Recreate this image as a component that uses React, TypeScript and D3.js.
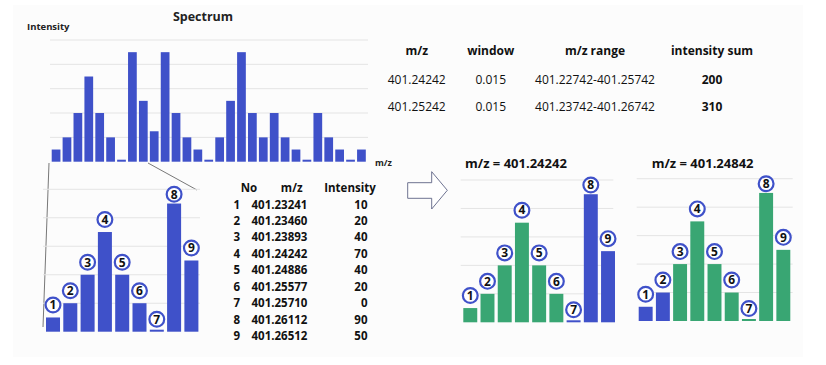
import React from 'react'
import * as d3 from 'd3'

// full spectrum (intensity per bin)
const spectrum = [10, 20, 40, 70, 40, 20, 0, 90, 50, 25, 90, 40, 20, 10, 0, 20, 50, 90, 40, 20, 40, 20, 10, 0, 40, 20, 10, 0, 10]

// zoomed peaks
const peakNo = [1, 2, 3, 4, 5, 6, 7, 8, 9]
const peakMz = ['401.23241', '401.23460', '401.23893', '401.24242', '401.24886', '401.25577', '401.25710', '401.26112', '401.26512']
const peakIntensity = [10, 20, 40, 70, 40, 20, 0, 90, 50]

// window table
const windowHeaders = ['m/z', 'window', 'm/z range', 'intensity sum']
const windowMz = ['401.24242', '401.25242']
const windowSize = ['0.015', '0.015']
const windowRange = ['401.22742-401.25742', '401.23742-401.26742']
const windowSum = ['200', '310']

// extracted chart titles and which peaks fall in the window
const extractTitles = ['m/z = 401.24242', 'm/z = 401.24842']
const extractIn = [[1, 2, 3, 4, 5, 6], [3, 4, 5, 6, 7, 8, 9]]

const gridTicks = [20, 40, 60, 80, 100]
const BLUE = '#3f51c9'
const GREEN = '#39a673'
const GRID = '#e4e4e4'
const FONT = "'Open Sans', 'Noto Sans', sans-serif"

type BarsProps = {
  values: number[]
  x0: number
  x1: number
  base: number
  top: number
  gx0: number
  gx1: number
  pad: number
  colorOf: (i: number) => string
  labels?: boolean
}

const Bars = ({ values, x0, x1, base, top, gx0, gx1, pad, colorOf, labels }: BarsProps) => {
  const x = d3.scaleBand<number>()
    .domain(values.map((_, i) => i))
    .range([x0, x1])
    .paddingInner(pad)
    .paddingOuter(0)
  const y = d3.scaleLinear().domain([0, 100]).range([base, top])
  return (
    <g>
      {gridTicks.map(t => (
        <line key={t} x1={gx0} x2={gx1} y1={y(t)} y2={y(t)} stroke={GRID} strokeWidth={1} />
      ))}
      {values.map((v, i) => {
        const h = Math.max(base - y(v), 2)
        return <rect key={i} x={x(i)} y={base - h} width={x.bandwidth()} height={h} fill={colorOf(i)} />
      })}
      {labels && values.map((v, i) => {
        const cx = (x(i) as number) + x.bandwidth() / 2
        const cy = Math.max(y(v) - 12.5, y(100) + 5)
        return (
          <g key={'l' + i}>
            <circle cx={cx} cy={cy} r={7.4} fill="white" stroke={BLUE} strokeWidth={2.2} />
            <text x={cx} y={cy + 4.3} textAnchor="middle" fontSize={12} fontWeight="bold" fill="#111">{peakNo[i]}</text>
          </g>
        )
      })}
    </g>
  )
}

const App = () => {
  const colX = [416.7, 490.7, 595, 712]
  const rowY = [83.5, 111]
  const ty = d3.scaleLinear().domain([0, 8]).range([208.5, 340])
  return (
    <svg width={826} height={365} style={{ position: 'absolute', left: 0, top: 0 }} fontFamily={FONT}>
      <rect x={0} y={0} width={826} height={365} fill="white" />
      <rect x={13} y={5} width={790} height={352} fill="#fcfcfc" />

      {/* Spectrum */}
      <text x={203} y={21} textAnchor="middle" fontSize={12.5} fontWeight="bold" fill="#222">Spectrum</text>
      <text x={27} y={30} fontSize={9.5} fontWeight="bold" fill="#222">Intensity</text>
      <text x={375} y={166} fontSize={9} fontWeight="bold" fill="#222">m/z</text>
      <Bars values={spectrum} x0={51.7} x1={365.8} base={161.7} top={40} gx0={50} gx1={368} pad={0.2} colorOf={() => BLUE} />

      {/* zoom lines */}
      <line x1={49} y1={163} x2={43} y2={327} stroke="#555" strokeWidth={0.8} />
      <line x1={148} y1={163} x2={197} y2={190} stroke="#555" strokeWidth={0.8} />

      {/* zoomed peaks */}
      <Bars values={peakIntensity} x0={46} x1={198.4} base={331.7} top={189.3} gx0={43} gx1={200} pad={0.19} colorOf={() => BLUE} labels />

      {/* peak table */}
      <g fontSize={11.5} fill="#111">
        <text x={249} y={192} textAnchor="middle" fontWeight="bold">No</text>
        <text x={291.7} y={192} textAnchor="middle" fontWeight="bold">m/z</text>
        <text x={350} y={192} textAnchor="middle" fontWeight="bold">Intensity</text>
        {peakNo.map((n, i) => (
          <g key={n} fontWeight="bold">
            <text x={233.5} y={ty(i)}>{n}</text>
            <text x={251.5} y={ty(i)}>{peakMz[i]}</text>
            <text x={367.5} y={ty(i)} textAnchor="end">{peakIntensity[i]}</text>
          </g>
        ))}
      </g>

      {/* window table */}
      <g fontSize={12} fill="#111">
        {windowHeaders.map((h, i) => (
          <text key={h} x={colX[i]} y={54.5} textAnchor="middle" fontWeight="bold">{h}</text>
        ))}
        {windowMz.map((m, r) => (
          <g key={r}>
            <text x={colX[0]} y={rowY[r]} textAnchor="middle">{m}</text>
            <text x={colX[1]} y={rowY[r]} textAnchor="middle">{windowSize[r]}</text>
            <text x={colX[2]} y={rowY[r]} textAnchor="middle">{windowRange[r]}</text>
            <text x={colX[3]} y={rowY[r]} textAnchor="middle" fontWeight="bold">{windowSum[r]}</text>
          </g>
        ))}
      </g>

      {/* arrow */}
      <path d="M407.7,182.7 L431.7,182.7 L431.7,171.7 L447.3,190.3 L431.7,209 L431.7,198.3 L407.7,198.3 Z"
        fill="white" stroke="#5d6385" strokeWidth={0.9} />

      {/* extracted windows */}
      <text x={465} y={168} fontSize={13} fontWeight="bold" fill="#111">{extractTitles[0]}</text>
      <Bars values={peakIntensity} x0={463.3} x1={615} base={322.3} top={180} gx0={460.7} gx1={613.3} pad={0.19}
        colorOf={i => extractIn[0].includes(i + 1) ? GREEN : BLUE} labels />

      <text x={651.7} y={168} fontSize={13} fontWeight="bold" fill="#111">{extractTitles[1]}</text>
      <Bars values={peakIntensity} x0={638.7} x1={790.3} base={321} top={178.7} gx0={636.7} gx1={792.7} pad={0.19}
        colorOf={i => extractIn[1].includes(i + 1) ? GREEN : BLUE} labels />
    </svg>
  )
}

export default App
